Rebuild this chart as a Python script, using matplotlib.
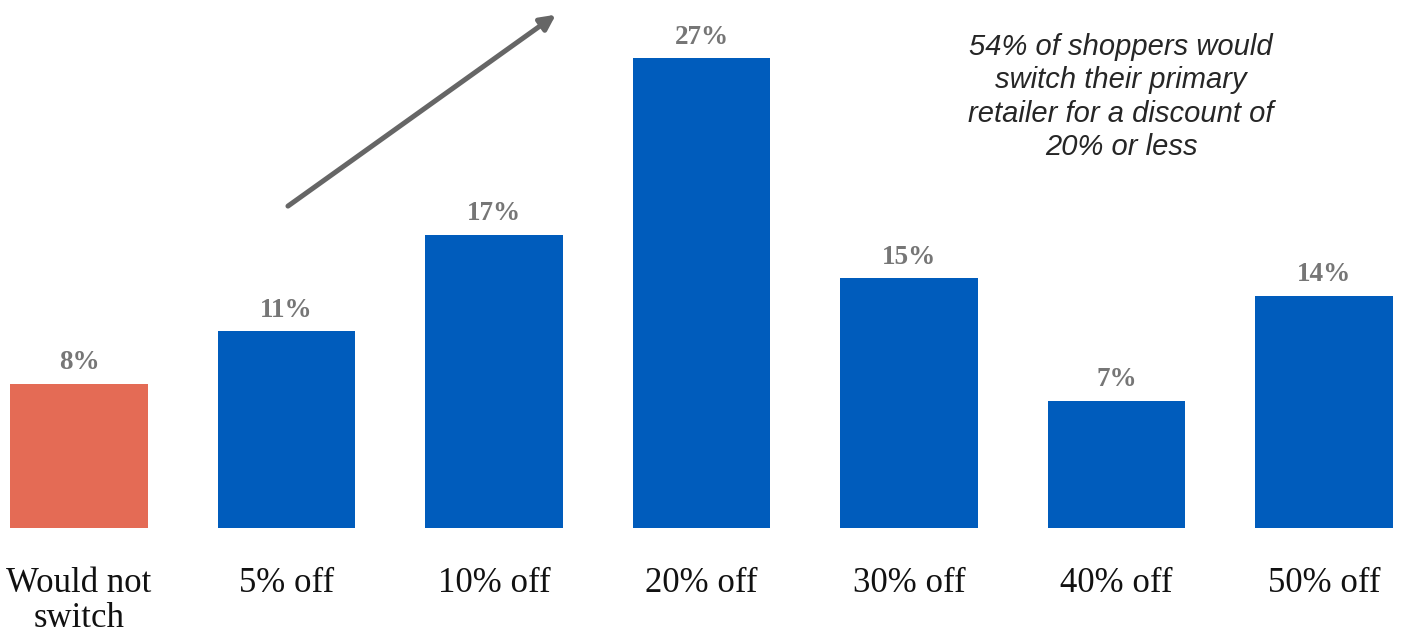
import matplotlib
matplotlib.use("Agg")
import matplotlib.pyplot as plt

categories = ["Would not\nswitch", "5% off", "10% off", "20% off", "30% off", "40% off", "50% off"]
values = [8.3, 11.3, 16.85, 27, 14.35, 7.3, 13.35]
labels = ["8%", "11%", "17%", "27%", "15%", "7%", "14%"]
colors = ["#E46B55", "#005CBC", "#005CBC", "#005CBC", "#005CBC", "#005CBC", "#005CBC"]
note = "54% of shoppers would\nswitch their primary\nretailer for a discount of\n20% or less"

W, H = 1401, 636
fig = plt.figure(figsize=(W / 100, H / 100), dpi=100)
ax = fig.add_axes([10 / W, 108 / H, (1393 - 10) / W, (630 - 108) / H])
x = list(range(len(categories)))
ax.bar(x, values, width=0.665, color=colors)
ax.set_xlim(-0.3325, 6.3325)
ax.set_ylim(0, 30)
for xi, v, lab in zip(x, values, labels):
    ax.text(xi, v + 0.5, lab, ha="center", va="bottom", fontsize=19.5,
            fontweight="bold", color="#767676", family="Liberation Serif")
ax.set_xticks(x)
ax.set_xticklabels(categories, fontsize=25, family="Liberation Serif", color="#111111",
                   linespacing=1.08)
ax.tick_params(axis="x", length=0, pad=28)
ax.set_yticks([])
for s in ax.spines.values():
    s.set_visible(False)

ax.annotate("", xy=(2.298, 29.5), xytext=(1.007, 18.5),
            arrowprops=dict(arrowstyle="-|>,head_length=0.9,head_width=0.45",
                            color="#666666", lw=3.6, shrinkA=0, shrinkB=0))
fig.text(1121 / W, 1 - 97 / H, note, ha="center", va="center", fontsize=21,
         style="italic", family="Liberation Sans", color="#262626", linespacing=1.24)
fig.savefig("out.png", dpi=100)
